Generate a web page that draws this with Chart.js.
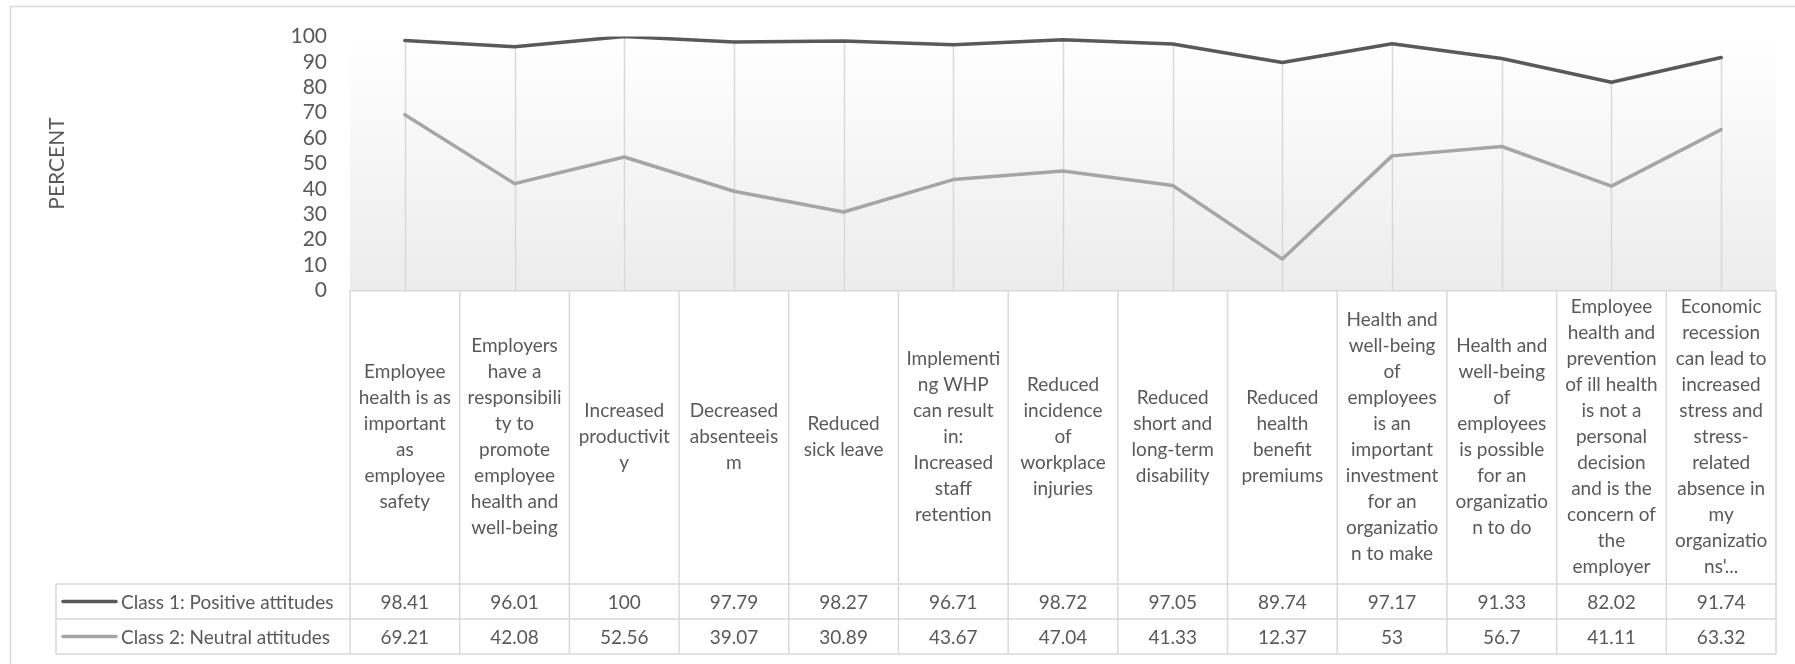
<!DOCTYPE html>
<html>
<head>
<meta charset="utf-8">
<script src="https://cdn.jsdelivr.net/npm/chart.js@4/dist/chart.umd.min.js"></script>
<style>
  html, body { margin: 0; padding: 0; background: #ffffff; overflow: hidden; }
  canvas { display: block; }
</style>
</head>
<body>
<canvas id="chart" width="1795" height="664"></canvas>
<script>
// Statements, split into the lines shown in the table header
const categories = [
  ["Employee", "health is as", "important", "as", "employee", "safety"],
  ["Employers", "have a", "responsibili", "ty to", "promote", "employee", "health and", "well-being"],
  ["Increased", "productivit", "y"],
  ["Decreased", "absenteeis", "m"],
  ["Reduced", "sick leave"],
  ["Implementi", "ng WHP", "can result", "in:", "Increased", "staff", "retention"],
  ["Reduced", "incidence", "of", "workplace", "injuries"],
  ["Reduced", "short and", "long-term", "disability"],
  ["Reduced", "health", "benefit", "premiums"],
  ["Health and", "well-being", "of", "employees", "is an", "important", "investment", "for an", "organizatio", "n to make"],
  ["Health and", "well-being", "of", "employees", "is possible", "for an", "organizatio", "n to do"],
  ["Employee", "health and", "prevention", "of ill health", "is not a", "personal", "decision", "and is the", "concern of", "the", "employer"],
  ["Economic", "recession", "can lead to", "increased", "stress and", "stress-", "related", "absence in", "my", "organizatio", "ns'..."]
];

const seriesNames = ["Class 1: Positive attitudes", "Class 2: Neutral attitudes"];

const positive = [98.41, 96.01, 100, 97.79, 98.27, 96.71, 98.72, 97.05, 89.74, 97.17, 91.33, 82.02, 91.74];
const neutral  = [69.21, 42.08, 52.56, 39.07, 30.89, 43.67, 47.04, 41.33, 12.37, 53, 56.7, 41.11, 63.32];

const percentTicks = [0, 10, 20, 30, 40, 50, 60, 70, 80, 90, 100];

const FONT = 'Lato, "Open Sans", sans-serif';
const TEXT = '#595959';
const RULE = '#d9d9d9';
const HEADER_H = 293.5;   // height of the statement row under the axis
const ROW_H = 35;         // height of each value row
const TABLE_LEFT = 56;    // left edge of the legend column

// Soft vertical gradient behind the plot
const plotBackground = {
  id: 'plotBackground',
  beforeDraw(chart) {
    const { ctx, chartArea: a } = chart;
    const g = ctx.createLinearGradient(0, a.top, 0, a.bottom);
    g.addColorStop(0, '#ffffff');
    g.addColorStop(1, '#ececec');
    ctx.save();
    ctx.fillStyle = g;
    ctx.fillRect(a.left, a.top, a.right - a.left, a.bottom - a.top);
    // outer frame of the chart object
    ctx.strokeStyle = RULE;
    ctx.lineWidth = 1.5;
    ctx.strokeRect(10.5, 6.5, chart.width + 20, chart.height + 20);
    ctx.restore();
  }
};

// Drop lines from the highest point of each category down to the axis
const dropLines = {
  id: 'dropLines',
  beforeDatasetsDraw(chart) {
    const { ctx, scales: { x, y } } = chart;
    ctx.save();
    ctx.strokeStyle = RULE;
    ctx.lineWidth = 1.5;
    chart.data.labels.forEach((_, i) => {
      const top = Math.max(...chart.data.datasets.map(d => d.data[i]));
      const px = Math.round(x.getPixelForValue(i)) + 0.5;
      ctx.beginPath();
      ctx.moveTo(px, y.getPixelForValue(top));
      ctx.lineTo(px, y.getPixelForValue(0));
      ctx.stroke();
    });
    ctx.restore();
  }
};

// Data table: cell rules, legend keys, series names and values
const dataTable = {
  id: 'dataTable',
  afterDraw(chart) {
    const { ctx, chartArea: a, scales: { x } } = chart;
    const n = chart.data.labels.length;
    const half = (x.getPixelForValue(1) - x.getPixelForValue(0)) / 2;
    const rowTop = a.bottom + HEADER_H;
    const bottom = rowTop + ROW_H * chart.data.datasets.length;
    const right = x.getPixelForValue(n - 1) + half;

    ctx.save();
    ctx.strokeStyle = RULE;
    ctx.lineWidth = 1.5;
    ctx.beginPath();
    for (let i = 0; i <= n; i++) {
      const bx = (i < n ? x.getPixelForValue(i) - half : right);
      ctx.moveTo(bx, a.bottom);
      ctx.lineTo(bx, bottom);
    }
    for (let r = 0; r <= chart.data.datasets.length; r++) {
      const ry = rowTop + r * ROW_H;
      ctx.moveTo(TABLE_LEFT, ry);
      ctx.lineTo(right, ry);
    }
    ctx.moveTo(TABLE_LEFT, rowTop);
    ctx.lineTo(TABLE_LEFT, bottom);
    ctx.stroke();

    ctx.font = '19px ' + FONT;
    ctx.fillStyle = TEXT;
    ctx.textBaseline = 'middle';
    chart.data.datasets.forEach((ds, r) => {
      const cy = rowTop + r * ROW_H + ROW_H / 2;
      // legend key
      ctx.strokeStyle = ds.borderColor;
      ctx.lineWidth = 3.5;
      ctx.lineCap = 'round';
      ctx.beginPath();
      ctx.moveTo(63, cy);
      ctx.lineTo(116, cy);
      ctx.stroke();
      ctx.textAlign = 'left';
      ctx.fillText(ds.label, 121, cy + 1);
      // values
      ctx.textAlign = 'center';
      ds.data.forEach((v, i) => {
        ctx.fillText(String(v), x.getPixelForValue(i), cy + 1);
      });
    });
    ctx.restore();
  }
};

new Chart(document.getElementById('chart'), {
  type: 'line',
  data: {
    labels: categories,
    datasets: [
      {
        label: seriesNames[0],
        data: positive,
        borderColor: '#595959',
        borderWidth: 3.5,
        pointRadius: 0,
        borderCapStyle: 'round',
        borderJoinStyle: 'round',
        tension: 0
      },
      {
        label: seriesNames[1],
        data: neutral,
        borderColor: '#a6a6a6',
        borderWidth: 3.5,
        pointRadius: 0,
        borderCapStyle: 'round',
        borderJoinStyle: 'round',
        tension: 0
      }
    ]
  },
  options: {
    responsive: false,
    animation: false,
    devicePixelRatio: 1,
    layout: { padding: { left: 0, top: 36.5, right: 19, bottom: 0 } },
    plugins: {
      legend: { display: false },
      tooltip: { enabled: false }
    },
    scales: {
      x: {
        type: 'category',
        offset: true,
        grid: { display: false, drawTicks: false },
        border: { display: true, color: RULE, width: 1.5 },
        ticks: {
          autoSkip: false,
          maxRotation: 0,
          minRotation: 0,
          crossAlign: 'center',
          padding: 16,
          color: TEXT,
          font: { family: FONT, size: 19, lineHeight: '26px' }
        },
        afterFit(scale) { scale.height = 664 - 36.5 - 254; }
      },
      y: {
        min: 0,
        max: 100,
        grid: { display: false, drawTicks: false },
        border: { display: false },
        afterBuildTicks(scale) { scale.ticks = percentTicks.map(v => ({ value: v })); },
        ticks: {
          autoSkip: false,
          padding: 23,
          color: TEXT,
          font: { family: FONT, size: 21, lineHeight: 1 }
        },
        title: {
          display: true,
          text: 'PERCENT',
          color: TEXT,
          padding: { top: 45, bottom: 0 },
          font: { family: FONT, size: 21 }
        },
        afterFit(scale) { scale.width = 350; }
      }
    }
  },
  plugins: [plotBackground, dropLines, dataTable]
});
</script>
</body>
</html>
